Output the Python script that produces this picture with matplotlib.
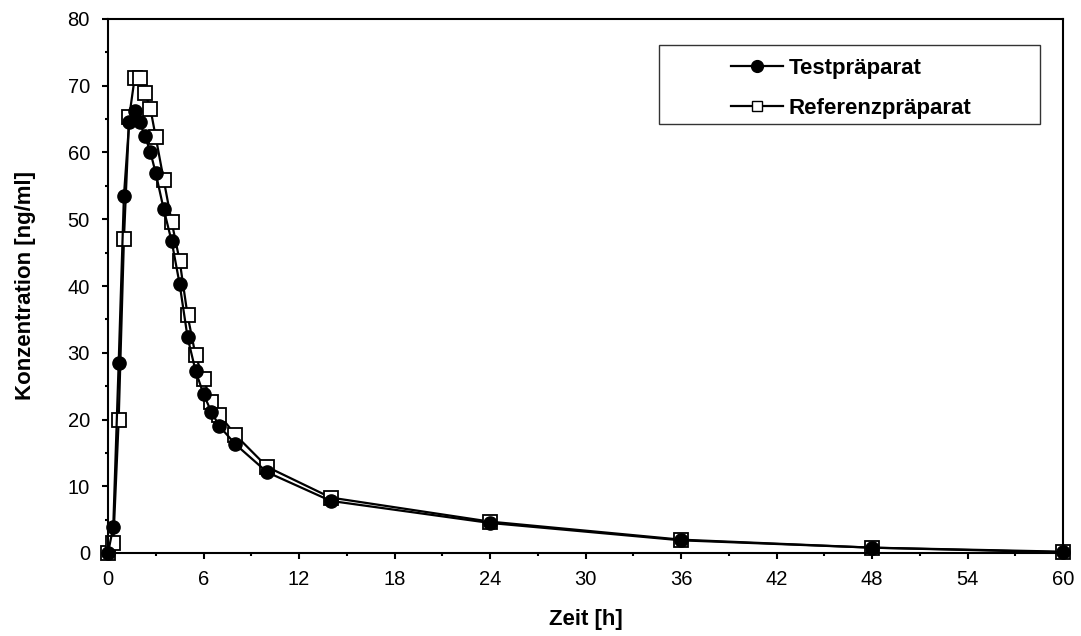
import matplotlib
matplotlib.use("Agg")
import matplotlib.pyplot as plt
from matplotlib.lines import Line2D
from matplotlib.patches import Rectangle
from matplotlib.ticker import MultipleLocator

plt.rcParams['font.family'] = ['Liberation Sans', 'DejaVu Sans']

zeit = [0, 0.33, 0.67, 1, 1.33, 1.67, 2, 2.33, 2.67, 3, 3.5, 4, 4.5, 5, 5.5, 6, 6.5, 7, 8, 10, 14, 24, 36, 48, 60]
test = [0, 3.9, 28.4, 53.5, 64.5, 66.2, 64.5, 62.4, 60.0, 56.9, 51.5, 46.7, 40.3, 32.3, 27.3, 23.8, 21.1, 19.0, 16.3, 12.1, 7.8, 4.5, 1.9, 0.8, 0.1]
referenz = [0, 1.5, 19.9, 47.0, 65.3, 71.1, 71.1, 68.9, 66.5, 62.3, 55.9, 49.6, 43.8, 35.6, 29.6, 26.1, 22.6, 20.7, 17.7, 12.9, 8.3, 4.7, 2.0, 0.8, 0.2]
xticks = [0, 6, 12, 18, 24, 30, 36, 42, 48, 54, 60]
yticks = [0, 10, 20, 30, 40, 50, 60, 70, 80]

W, H = 1081, 636
fig = plt.figure(figsize=(W / 100, H / 100), dpi=100)
ax = fig.add_axes([108 / W, 1 - 553 / H, (1063 - 108) / W, (553 - 19) / H])

ax.plot(zeit, referenz, color='black', lw=1.6, marker='s', ms=9.5,
        mfc='white', mec='black', mew=1.3, zorder=2, clip_on=False)
ax.plot(zeit, test, color='black', lw=1.6, marker='o', ms=9.5,
        mfc='black', mec='black', zorder=3, clip_on=False)

ax.set_xlim(0, 60)
ax.set_ylim(0, 80)
ax.set_xticks(xticks)
ax.set_yticks(yticks)
ax.xaxis.set_minor_locator(MultipleLocator(3))
ax.yaxis.set_minor_locator(MultipleLocator(5))
ax.tick_params(axis='both', which='major', labelsize=14.5, direction='out', length=4.5, width=1.5)
ax.tick_params(axis='both', which='minor', direction='out', length=2.5, width=1.5)
ax.tick_params(axis='x', which='major', pad=7.5)
ax.tick_params(axis='y', which='major', pad=8.5)
for s in ax.spines.values():
    s.set_linewidth(1.5)

ax.set_xlabel('Zeit [h]', fontsize=16, fontweight='bold', va='center')
ax.xaxis.set_label_coords((108 + 1063) / 2 / W, 1 - 620 / H, transform=fig.transFigure)
ax.set_ylabel('Konzentration [ng/ml]', fontsize=16, fontweight='bold', va='center')
ax.yaxis.set_label_coords(26 / W, 1 - (553 + 19) / 2 / H, transform=fig.transFigure)

# legend frame
ax.add_patch(Rectangle((659 / W, 1 - 124 / H), (1040 - 659) / W, (124 - 45) / H,
                       transform=fig.transFigure, facecolor='white',
                       edgecolor='#333333', lw=1.0, zorder=5, clip_on=False))

handles = [
    Line2D([], [], color='black', lw=1.6, marker='o', ms=8.5, mfc='black'),
    Line2D([], [], color='black', lw=1.6, marker='s', ms=7, mfc='white', mew=1.0),
]
leg = ax.legend(handles, ['Testpräparat', 'Referenzpräparat'],
                loc='upper left', bbox_to_anchor=(731 / W, 1 - 58 / H),
                bbox_transform=fig.transFigure,
                prop={'weight': 'bold', 'size': 16}, frameon=False,
                borderpad=0, labelspacing=0.85,
                handlelength=2.35, handletextpad=0.25, borderaxespad=0)
leg.set_zorder(6)

fig.savefig('out.png', dpi=100)
